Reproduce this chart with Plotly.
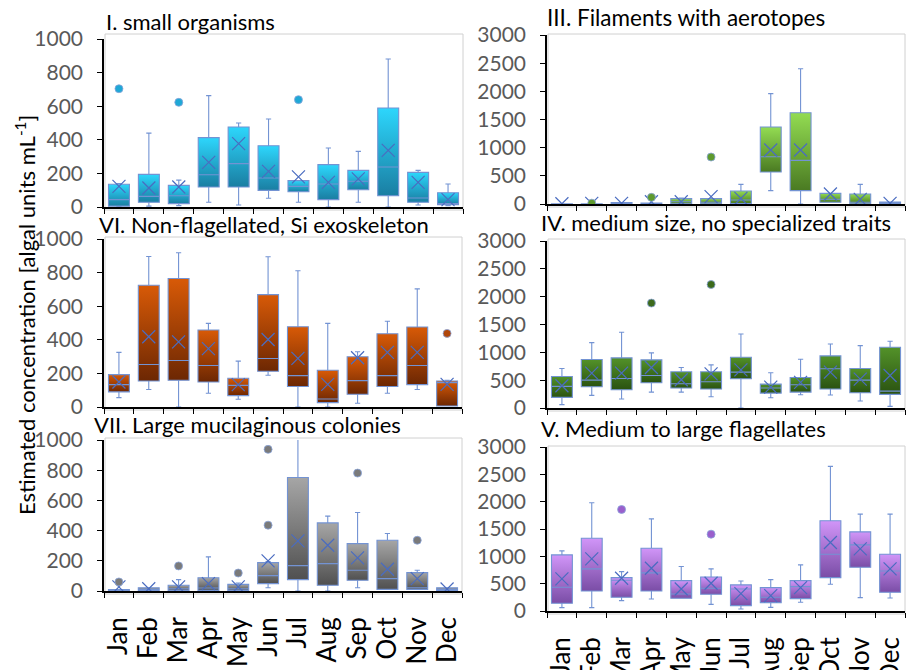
import plotly.graph_objects as go

W, H = 907, 670
months = ["Jan", "Feb", "Mar", "Apr", "May", "Jun", "Jul", "Aug", "Sep", "Oct", "Nov", "Dec"]

# ---- Panel I. small organisms ----
I_low = [0, 5, 8, 28, 12, 52, 28, 0, 28, 0, 12, 8]
I_q1 = [5, 28, 20, 119, 119, 99, 91, 44, 103, 67, 28, 14]
I_med = [44, 63, 67, 192, 258, 173, 123, 137, 153, 238, 54, 20]
I_q3 = [135, 194, 129, 413, 476, 365, 157, 252, 218, 589, 206, 85]
I_high = [140, 440, 160, 663, 500, 524, 157, 351, 331, 881, 218, 137]
I_mean = [123, 113, 119, 266, 377, 212, 179, 147, 167, 337, 147, 44]
I_out_m = ["Jan", "Mar", "Jul"]
I_out_v = [704, 623, 639]

# ---- Panel III. Filaments with aerotopes ----
III_low = [0, 0, 0, 0, 5, 0, 10, 237, 0, 30, 5, 3]
III_q1 = [0, 0, 0, 0, 5, 5, 10, 568, 237, 30, 5, 3]
III_med = [0, 0, 5, 5, 40, 30, 71, 840, 775, 83, 30, 10]
III_q3 = [3, 5, 25, 15, 95, 95, 231, 1367, 1621, 189, 178, 36]
III_high = [3, 5, 25, 15, 107, 95, 349, 1959, 2402, 189, 349, 36]
III_mean = [5, 10, 12, 40, 40, 130, 100, 959, 959, 178, 83, 12]
III_out_m = ["Feb", "Apr", "Jun"]
III_out_v = [15, 118, 834]

# ---- Panel VI. Non-flagellated, Si exoskeleton ----
VI_low = [56, 104, 0, 82, 46, 189, 0, 0, 22, 82, 104, 6]
VI_q1 = [90, 155, 159, 149, 68, 213, 122, 26, 76, 122, 133, 6]
VI_med = [133, 253, 277, 247, 129, 289, 187, 48, 157, 187, 247, 145]
VI_q3 = [193, 725, 765, 458, 171, 669, 478, 219, 299, 436, 476, 155]
VI_high = [325, 896, 918, 498, 273, 894, 811, 498, 329, 510, 703, 159]
VI_mean = [149, 418, 388, 347, 133, 402, 289, 135, 293, 325, 325, 135]
VI_out_m = ["Dec"]
VI_out_v = [438]

# ---- Panel IV. medium size, no specialized traits ----
IV_low = [60, 227, 161, 286, 286, 203, 0, 185, 239, 233, 125, 30]
IV_q1 = [191, 382, 328, 453, 358, 340, 525, 268, 286, 340, 274, 245]
IV_med = [388, 501, 531, 584, 435, 471, 644, 358, 417, 704, 501, 304]
IV_q3 = [567, 871, 901, 865, 650, 650, 912, 429, 549, 936, 710, 1091]
IV_high = [710, 1175, 1360, 990, 728, 775, 1330, 632, 877, 1151, 1121, 1199]
IV_mean = [400, 626, 626, 728, 507, 614, 686, 376, 459, 644, 519, 584]
IV_out_m = ["Apr", "Jun"]
IV_out_v = [1885, 2219]

# ---- Panel VII. Large mucilaginous colonies ----
VII_low = [0, 4, 4, 4, 4, 22, 0, 0, 22, 11, 11, 4]
VII_q1 = [0, 4, 4, 4, 4, 49, 75, 38, 71, 11, 11, 4]
VII_med = [3, 10, 15, 20, 15, 102, 168, 181, 137, 82, 22, 10]
VII_q3 = [10, 22, 38, 88, 44, 188, 752, 451, 314, 336, 122, 22]
VII_high = [10, 22, 75, 226, 53, 195, 1100, 496, 520, 381, 137, 22]
VII_mean = [27, 15, 27, 49, 27, 199, 332, 303, 219, 144, 82, 13]
VII_out_m = ["Jan", "Mar", "May", "Jun", "Jun", "Sep", "Nov"]
VII_out_v = [60, 166, 119, 436, 938, 781, 336]

# ---- Panel V. Medium to large flagellates ----
V_low = [61, 61, 189, 220, 232, 122, 37, 67, 159, 489, 244, 238]
V_q1 = [141, 367, 251, 367, 232, 306, 98, 153, 226, 611, 800, 342]
V_med = [434, 770, 562, 697, 312, 415, 403, 251, 446, 1039, 1210, 733]
V_q3 = [1026, 1332, 611, 1149, 556, 623, 477, 428, 556, 1650, 1448, 1039]
V_high = [1100, 1980, 721, 1686, 813, 770, 550, 574, 843, 2646, 1772, 1772]
V_mean = [587, 953, 599, 782, 403, 507, 318, 281, 428, 1253, 1136, 770]
V_out_m = ["Mar", "Jun"]
V_out_v = [1857, 1405]

FONT = "Lato, 'Open Sans', sans-serif"
BOXLINE = "#7393D3"
MEANCOL = "#4A6CC0"
BOX_W = 0.7

xpos = list(range(len(months)))
pos_of = {m: i for i, m in enumerate(months)}


def px_x(p):
    return p / W


def px_y(p):
    return 1 - p / H


panels = [
    dict(title="I. small organisms", title_xy=(104, 21), tsize=22, x=(104, 463), y=(39, 207), frame_top=34,
         ymax=1000, dtick=200, grad=("#1A7EA2", "#2DD6FC"), out="#1FA8D6",
         data=(I_low, I_q1, I_med, I_q3, I_high, I_mean, I_out_m, I_out_v), labels=False),
    dict(title="III. Filaments with aerotopes", title_xy=(545, 18), tsize=22.5, x=(547, 905), y=(35, 204), frame_top=34,
         ymax=3000, dtick=500, grad=("#4A7A22", "#93DC52"), out="#5E9A2E",
         data=(III_low, III_q1, III_med, III_q3, III_high, III_mean, III_out_m, III_out_v), labels=False),
    dict(title="VI. Non-flagellated, Si exoskeleton", title_xy=(97, 225), tsize=22, x=(104, 462), y=(239, 407), frame_top=237,
         ymax=1000, dtick=200, grad=("#6C2703", "#D85A07"), out="#B0470A",
         data=(VI_low, VI_q1, VI_med, VI_q3, VI_high, VI_mean, VI_out_m, VI_out_v), labels=False),
    dict(title="IV. medium size, no specialized traits", title_xy=(539, 222), tsize=22, x=(547, 905), y=(241, 408), frame_top=239,
         ymax=3000, dtick=500, grad=("#2A5211", "#539229"), out="#3C6A1C",
         data=(IV_low, IV_q1, IV_med, IV_q3, IV_high, IV_mean, IV_out_m, IV_out_v), labels=False),
    dict(title="VII. Large mucilaginous colonies", title_xy=(92, 424), tsize=22, x=(104, 462), y=(440, 591), frame_top=438,
         ymax=1000, dtick=200, grad=("#505050", "#A6A6A6"), out="#7A7A7A",
         data=(VII_low, VII_q1, VII_med, VII_q3, VII_high, VII_mean, VII_out_m, VII_out_v), labels=True),
    dict(title="V. Medium to large flagellates", title_xy=(539, 428), tsize=22, x=(547, 905), y=(447, 611), frame_top=446,
         ymax=3000, dtick=500, grad=("#7A4DA6", "#D195F8"), out="#9A5FCC",
         data=(V_low, V_q1, V_med, V_q3, V_high, V_mean, V_out_m, V_out_v), labels=True),
]

fig = go.Figure()
layout = dict(width=W, height=H, margin=dict(l=0, r=0, t=0, b=0, autoexpand=False),
              paper_bgcolor="white", plot_bgcolor="white", showlegend=False,
              font=dict(family=FONT), annotations=[], shapes=[])

n = len(panels)
for i, p in enumerate(panels, start=1):
    sfx = "" if i == 1 else str(i)
    osfx = str(i + n)
    xa, ya = "x" + sfx, "y" + sfx
    oxa, oya = "x" + osfx, "y" + osfx
    low, q1, med, q3, high, mean, om, ov = p["data"]
    dark, light = p["grad"]

    # gradient-filled box bodies (base subplot, drawn underneath)
    for j in xpos:
        if q3[j] <= q1[j]:
            continue
        fig.add_trace(go.Scatter(
            x=[j - BOX_W / 2, j + BOX_W / 2, j + BOX_W / 2, j - BOX_W / 2, j - BOX_W / 2],
            y=[q1[j], q1[j], q3[j], q3[j], q1[j]],
            xaxis=xa, yaxis=ya, mode="lines", line=dict(width=0, color=light),
            fill="toself", fillgradient=dict(type="vertical", colorscale=[[0, dark], [1, light]]),
            hoverinfo="skip"))

    # box outline, median, whiskers (overlay subplot)
    fig.add_trace(go.Box(
        x=xpos, q1=q1, median=med, q3=q3, lowerfence=low, upperfence=high,
        xaxis=oxa, yaxis=oya, fillcolor="rgba(0,0,0,0)", line=dict(color=BOXLINE, width=1.1),
        width=BOX_W, whiskerwidth=0.25, boxpoints=False, hoverinfo="skip"))
    fig.add_trace(go.Scatter(
        x=xpos, y=mean, mode="markers", xaxis=oxa, yaxis=oya, hoverinfo="skip",
        marker=dict(symbol="x-thin", size=13, line=dict(width=1.2, color=MEANCOL))))
    fig.add_trace(go.Scatter(
        x=[pos_of[m] for m in om], y=ov, mode="markers", xaxis=oxa, yaxis=oya, hoverinfo="skip",
        marker=dict(symbol="circle", size=8, color=p["out"], line=dict(width=0.8, color="#8AA4DA"))))

    layout["xaxis" + sfx] = dict(
        domain=[px_x(p["x"][0]), px_x(p["x"][1])], anchor=ya, range=[-0.5, len(months) - 0.5],
        tickmode="array", tickvals=xpos, ticktext=months, ticks="", automargin=False,
        minor=dict(tickmode="array", tickvals=[k - 0.5 for k in range(len(months) + 1)],
                   ticks="outside", ticklen=5, tickcolor="black", tickwidth=1.2, showgrid=False),
        showline=True, linecolor="black", linewidth=1.5, showgrid=False, zeroline=False,
        showticklabels=p["labels"], tickangle=-90, ticklabelstandoff=14,
        tickfont=dict(family=FONT, size=26, color="black"), fixedrange=True)
    layout["yaxis" + sfx] = dict(
        domain=[px_y(p["y"][1]), px_y(p["y"][0])], anchor=xa, automargin=False,
        range=[0, p["ymax"]], dtick=p["dtick"], tick0=0,
        showline=True, linecolor="black", linewidth=1.5, showgrid=False, zeroline=False,
        ticks="outside", ticklen=5, tickcolor="black", tickwidth=1.2, ticklabelstandoff=10,
        tickfont=dict(family=FONT, size=21, color="#595959"), fixedrange=True)
    layout["xaxis" + osfx] = dict(overlaying=xa, anchor=oya, range=[-0.5, len(months) - 0.5],
                                  visible=False, fixedrange=True, automargin=False)
    layout["yaxis" + osfx] = dict(overlaying=ya, anchor=oxa, range=[0, p["ymax"]],
                                  visible=False, fixedrange=True, automargin=False)
    layout["shapes"].append(dict(
        type="rect", xref="paper", yref="paper", layer="below",
        x0=px_x(p["x"][0] + 1), x1=px_x(p["x"][1]),
        y0=px_y(p["y"][1] + 3), y1=px_y(p["frame_top"]),
        line=dict(color="#D0D0D0", width=1)))
    layout["annotations"].append(dict(
        text=p["title"], xref="paper", yref="paper",
        x=px_x(p["title_xy"][0]), y=px_y(p["title_xy"][1]),
        xanchor="left", yanchor="middle", showarrow=False,
        font=dict(family=FONT, size=p["tsize"], color="black")))

layout["annotations"].append(dict(
    text="Estimated concentration [algal units mL<sup>-1</sup>]",
    xref="paper", yref="paper", x=px_x(25), y=px_y(315), textangle=-90,
    xanchor="center", yanchor="middle", showarrow=False,
    font=dict(family=FONT, size=22, color="black")))

fig.update_layout(**layout)
fig.write_html("out.html")
